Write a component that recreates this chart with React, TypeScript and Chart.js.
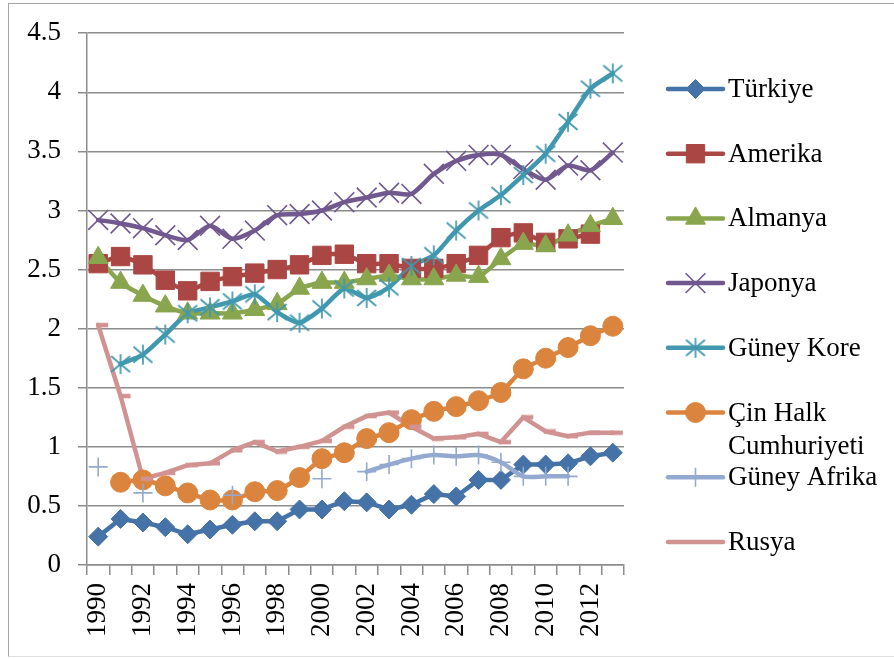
import React, { useEffect, useRef } from 'react';
import { Chart, registerables } from 'chart.js';
import { drawPoint } from 'chart.js/helpers';

Chart.register(...registerables);

const years = ['1990','1991','1992','1993','1994','1995','1996','1997','1998','1999','2000','2001','2002','2003','2004','2005','2006','2007','2008','2009','2010','2011','2012','2013'];

const seriesNames = ['Türkiye', 'Amerika', 'Almanya', 'Japonya', 'Güney Kore', 'Çin Halk Cumhuriyeti', 'Güney Afrika', 'Rusya'];

const turkiye = [0.24,0.39,0.36,0.32,0.26,0.30,0.34,0.37,0.37,0.47,0.47,0.54,0.53,0.47,0.51,0.60,0.58,0.72,0.72,0.85,0.85,0.86,0.92,0.95];
const amerika = [2.55,2.61,2.54,2.41,2.32,2.40,2.44,2.47,2.50,2.54,2.62,2.63,2.55,2.55,2.51,2.51,2.55,2.62,2.77,2.81,2.73,2.76,2.80,null];
const almanya = [2.60,2.39,2.28,2.19,2.13,2.13,2.13,2.16,2.21,2.34,2.39,2.39,2.42,2.45,2.42,2.42,2.45,2.44,2.59,2.72,2.70,2.79,2.87,2.93];
const japonya = [2.92,2.89,2.85,2.79,2.75,2.87,2.76,2.83,2.96,2.97,3.00,3.07,3.11,3.15,3.14,3.31,3.42,3.47,3.47,3.35,3.26,3.38,3.34,3.49];
const guneyKore = [null,1.70,1.78,1.95,2.13,2.18,2.23,2.29,2.14,2.05,2.17,2.34,2.26,2.35,2.53,2.62,2.83,3.00,3.13,3.30,3.48,3.75,4.03,4.16];
const cin = [null,0.70,0.72,0.67,0.61,0.55,0.55,0.62,0.63,0.74,0.90,0.95,1.07,1.12,1.23,1.30,1.34,1.39,1.46,1.66,1.75,1.84,1.94,2.02];
const guneyAfrika = [0.83,null,0.61,null,null,null,0.59,null,null,null,0.73,null,0.79,0.85,0.90,0.93,0.92,0.93,0.87,0.75,0.75,0.75,null,null];
const rusya = [2.03,1.43,0.73,0.78,0.845,0.86,0.97,1.04,0.96,1.00,1.05,1.17,1.26,1.29,1.17,1.07,1.08,1.11,1.04,1.25,1.13,1.09,1.12,1.12];

const seriesData = [turkiye, amerika, almanya, japonya, guneyKore, cin, guneyAfrika, rusya];
const colors = ['#4572A7', '#AA4643', '#89A54E', '#71588F', '#4198AF', '#DB843D', '#93A9CF', '#D19392'];

const FONT = "'Liberation Serif', 'Times New Roman', serif";

function makeAsterisk(color: string) {
  const c = document.createElement('canvas');
  c.width = 24; c.height = 24;
  const g = c.getContext('2d')!;
  g.strokeStyle = color; g.lineWidth = 1.7; g.lineCap = 'butt';
  g.beginPath();
  g.moveTo(12, 2); g.lineTo(12, 22);
  g.moveTo(2.5, 4); g.lineTo(21.5, 20);
  g.moveTo(21.5, 4); g.lineTo(2.5, 20);
  g.stroke();
  return c;
}

function makeDash(color: string) {
  const c = document.createElement('canvas');
  c.width = 24; c.height = 6;
  const g = c.getContext('2d')!;
  g.fillStyle = color;
  g.fillRect(10, 0.75, 12, 4.5);
  return c;
}

export default function App() {
  const ref = useRef<HTMLCanvasElement>(null);

  useEffect(() => {
    document.body.style.margin = '0';
    const markerStyles: any[] = [
      { pointStyle: 'rectRot', radius: 9.5, borderWidth: 1 },
      { pointStyle: 'rect', radius: 13, borderWidth: 1 },
      { pointStyle: 'triangle', radius: 11.5, borderWidth: 1 },
      { pointStyle: 'crossRot', radius: 14, borderWidth: 1.6 },
      { pointStyle: makeAsterisk(colors[4]), radius: 10, borderWidth: 1.6 },
      { pointStyle: 'circle', radius: 10, borderWidth: 1 },
      { pointStyle: 'cross', radius: 9.5, borderWidth: 1.6 },
      { pointStyle: makeDash(colors[7]), radius: 10, borderWidth: 0 },
    ];
    const tensions = [0, 0.2, 0.2, 0.25, 0.2, 0.15, 0.25, 0];

    const lineSets = seriesData.map((d, i) => ({
      label: seriesNames[i],
      data: d,
      borderColor: colors[i],
      backgroundColor: colors[i],
      borderWidth: 4.5,
      borderCapStyle: 'round',
      borderJoinStyle: 'round',
      pointRadius: 0,
      pointHoverRadius: 0,
      tension: tensions[i],
      spanGaps: false,
      fill: false,
      order: 100 - i,
    }));
    const pointSets = seriesData.map((d, i) => ({
      label: seriesNames[i] + ' markers',
      data: d,
      showLine: false,
      pointStyle: markerStyles[i].pointStyle,
      pointRadius: markerStyles[i].radius,
      pointHoverRadius: markerStyles[i].radius,
      pointBorderWidth: markerStyles[i].borderWidth,
      pointBackgroundColor: colors[i],
      pointBorderColor: colors[i],
      order: 50 - i,
    }));

    const legendPlugin = {
      id: 'customLegend',
      afterDraw(chart: any) {
        const ctx = chart.ctx as CanvasRenderingContext2D;
        ctx.save();
        const lx0 = 668, lx1 = 723, mx = 695.5, tx = 728, maxW = 894 - tx - 2;
        seriesNames.forEach((name, i) => {
          const y = 89 + i * 64.7;
          ctx.strokeStyle = colors[i];
          ctx.lineWidth = 4.5;
          ctx.lineCap = 'round';
          ctx.beginPath();
          ctx.moveTo(lx0, y);
          ctx.lineTo(lx1, y);
          ctx.stroke();
          const m = markerStyles[i];
          if (i !== 7) {
            ctx.fillStyle = colors[i];
            ctx.strokeStyle = colors[i];
            ctx.lineWidth = m.borderWidth;
            ctx.lineCap = 'butt';
            drawPoint(ctx, { pointStyle: m.pointStyle, radius: m.radius, borderWidth: m.borderWidth, rotation: 0 } as any, mx, y);
          }
          ctx.font = `27px ${FONT}`;
          ctx.fillStyle = '#000';
          ctx.textBaseline = 'middle';
          ctx.textAlign = 'left';
          const words = name.split(' ');
          const lines: string[] = [];
          let cur = '';
          words.forEach((w) => {
            const test = cur ? cur + ' ' + w : w;
            if (cur && ctx.measureText(test).width > maxW) {
              lines.push(cur);
              cur = w;
            } else cur = test;
          });
          if (cur) lines.push(cur);
          lines.forEach((ln, k) => ctx.fillText(ln, tx, y + 1 + k * 33.5));
        });
        ctx.restore();
      },
    };

    const chart = new Chart(ref.current!, {
      type: 'line',
      data: { labels: years, datasets: [...lineSets, ...pointSets] as any },
      options: {
        responsive: false,
        animation: false,
        events: [],
        layout: { padding: { left: 0, top: 33, right: 270, bottom: 0 } },
        plugins: { legend: { display: false }, tooltip: { enabled: false } },
        scales: {
          x: {
            type: 'category',
            offset: true,
            grid: { display: true, drawOnChartArea: false, drawTicks: true, tickLength: 10, color: '#8c8c8c', lineWidth: 1.5, offset: true },
            border: { display: true, color: '#8c8c8c', width: 1.5 },
            ticks: {
              autoSkip: false,
              maxRotation: 90,
              minRotation: 90,
              padding: 8,
              color: '#000',
              font: { family: FONT, size: 27 },
              callback: function (this: any, v: any, i: number) {
                return i % 2 === 0 ? this.getLabelForValue(v) : '';
              },
            },
            afterFit: (s: any) => { s.height = 94; },
          },
          y: {
            min: 0,
            max: 4.5,
            ticks: {
              stepSize: 0.5,
              padding: 17,
              color: '#000',
              font: { family: FONT, size: 27 },
              callback: (v: any) => String(Math.round(Number(v) * 10) / 10),
            },
            grid: { color: '#8c8c8c', lineWidth: 1.5, tickLength: 9 },
            border: { color: '#8c8c8c', width: 1.5 },
            afterFit: (s: any) => { s.width = 87; },
          },
        },
      } as any,
      plugins: [legendPlugin],
    });
    return () => chart.destroy();
  }, []);

  return (
    <div style={{ position: 'relative', width: 894, height: 659, overflow: 'hidden', background: '#fff' }}>
      <canvas ref={ref} width={894} height={659} style={{ display: 'block', width: 894, height: 659 }} />
      <div
        style={{
          position: 'absolute', left: 8, top: 3, width: 886, height: 654, boxSizing: 'border-box',
          borderLeft: '1.5px solid #a6a6a6', borderTop: '1.5px solid #a6a6a6', borderBottom: '1px solid #e0e0e0',
          pointerEvents: 'none',
        }}
      />
    </div>
  );
}
